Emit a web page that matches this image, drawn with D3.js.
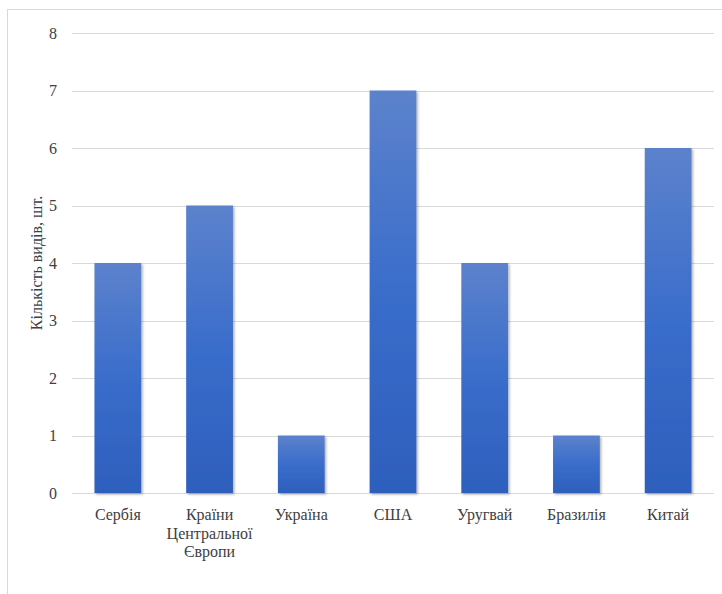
<!DOCTYPE html>
<html>
<head>
<meta charset="utf-8">
<script src="https://cdn.jsdelivr.net/npm/d3@7"></script>
<style>
  body { margin: 0; background: #fff; }
</style>
</head>
<body>
<div class="chart"></div>
<script>
const w = 722;
const h = 594;

// data
const categories = ["Сербія", "Країни Центральної Європи", "Україна", "США", "Уругвай", "Бразилія", "Китай"];
const labelLines = [["Сербія"], ["Країни", "Центральної", "Європи"], ["Україна"], ["США"], ["Уругвай"], ["Бразилія"], ["Китай"]];
const values = [4, 5, 1, 7, 4, 1, 6];
const yTicks = [0, 1, 2, 3, 4, 5, 6, 7, 8];
const yTitle = "Кількість видів, шт.";

const serif = "Liberation Serif";
const textColour = "#404040";

const svg = d3.select(".chart")
  .append("svg")
  .attr("width", w)
  .attr("height", h);

const defs = svg.append("defs");
const grad = defs.append("linearGradient")
  .attr("id", "barGrad")
  .attr("x1", 0).attr("y1", 0).attr("x2", 0).attr("y2", 1);
grad.append("stop").attr("offset", "0%").attr("stop-color", "#5c82cc");
grad.append("stop").attr("offset", "50%").attr("stop-color", "#3a6dcb");
grad.append("stop").attr("offset", "100%").attr("stop-color", "#2e5fbd");

const shadow = defs.append("filter")
  .attr("id", "shadow")
  .attr("x", "-20%").attr("y", "-20%").attr("width", "140%").attr("height", "140%");
shadow.append("feDropShadow")
  .attr("dx", 1.5).attr("dy", 1.5).attr("stdDeviation", 1.2)
  .attr("flood-color", "#000").attr("flood-opacity", 0.3);

// outer border
svg.append("rect")
  .attr("x", 7.5).attr("y", 9.5)
  .attr("width", 730).attr("height", 600)
  .attr("fill", "none")
  .attr("stroke", "#d9d9d9");

// scales
const xScale = d3.scaleBand()
  .domain(categories)
  .range([72, 714])
  .paddingInner(0.49)
  .paddingOuter(0.245);

const yScale = d3.scaleLinear()
  .domain([0, 8])
  .range([493, 33]);

// gridlines
svg.append("g")
  .selectAll("line")
  .data(yTicks)
  .enter()
  .append("line")
  .attr("x1", 72).attr("x2", 714)
  .attr("y1", d => Math.round(yScale(d)) + 0.5)
  .attr("y2", d => Math.round(yScale(d)) + 0.5)
  .attr("stroke", "#d9d9d9")
  .attr("stroke-width", 1);

// y axis labels
const yAxis = d3.axisLeft(yScale).tickValues(yTicks).tickSize(0).tickPadding(15);
const yAxisG = svg.append("g")
  .attr("transform", "translate(72,0)")
  .call(yAxis);
yAxisG.select(".domain").remove();
yAxisG.selectAll("text")
  .attr("font-family", serif)
  .attr("font-size", 16)
  .attr("fill", textColour);

// bars
svg.append("g")
  .selectAll("rect")
  .data(values)
  .enter()
  .append("rect")
  .attr("x", (d, i) => xScale(categories[i]))
  .attr("y", d => yScale(d))
  .attr("width", xScale.bandwidth())
  .attr("height", d => yScale(0) - yScale(d))
  .attr("fill", "url(#barGrad)")
  .attr("filter", "url(#shadow)");

// x labels
const xLabels = svg.append("g")
  .selectAll("text")
  .data(labelLines)
  .enter()
  .append("text")
  .attr("x", (d, i) => xScale(categories[i]) + xScale.bandwidth() / 2)
  .attr("y", 520)
  .attr("text-anchor", "middle")
  .attr("font-family", serif)
  .attr("font-size", 16)
  .attr("fill", textColour);

xLabels.selectAll("tspan")
  .data(d => d)
  .enter()
  .append("tspan")
  .attr("x", function () { return d3.select(this.parentNode).attr("x"); })
  .attr("dy", (d, i) => i === 0 ? 0 : 18.5)
  .text(d => d);

// y title
svg.append("text")
  .attr("transform", "translate(42,263) rotate(-90)")
  .attr("text-anchor", "middle")
  .attr("font-family", serif)
  .attr("font-size", 16)
  .attr("fill", textColour)
  .text(yTitle);
</script>
</body>
</html>
